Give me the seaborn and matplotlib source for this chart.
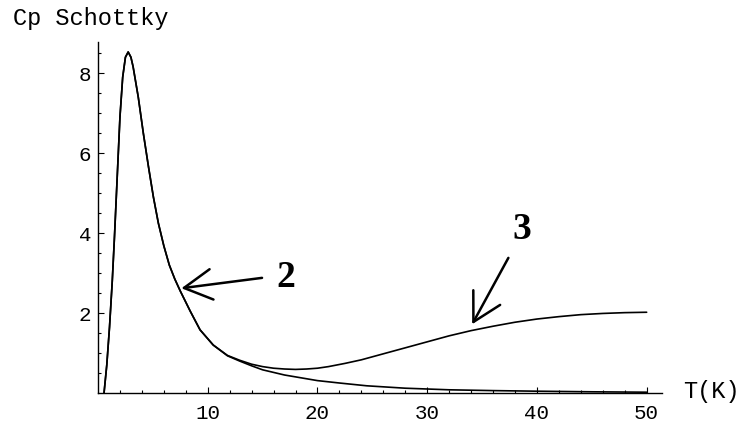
import numpy as np
import pandas as pd
import matplotlib
matplotlib.use("Agg")
import matplotlib.pyplot as plt
import seaborn as sns
from matplotlib.ticker import FixedLocator

# curve 2: single Schottky anomaly
t2 = [0.55, 0.8, 1.05, 1.3, 1.5, 1.75, 2.0, 2.25, 2.5, 2.75, 3.0, 3.2, 3.67, 4.13,
      4.6, 5.05, 5.5, 6.0, 6.5, 7.0, 7.5, 8.4, 9.3, 10.5, 11.8, 12.9, 14.0, 15.0,
      17.0, 20.0, 22.0, 24.5, 28.0, 32.0, 36.0, 40.0, 45.0, 50.0]
cp2 = [0.0, 0.7, 1.65, 2.8, 3.9, 5.4, 6.9, 7.9, 8.4, 8.53, 8.4, 8.16, 7.4, 6.5,
       5.66, 4.9, 4.25, 3.68, 3.2, 2.85, 2.55, 2.05, 1.58, 1.2, 0.93, 0.8, 0.68,
       0.58, 0.45, 0.31, 0.25, 0.18, 0.12, 0.08, 0.06, 0.045, 0.03, 0.02]

# curve 3: same low-T part, second contribution at higher T
t3 = [0.55, 0.8, 1.05, 1.3, 1.5, 1.75, 2.0, 2.25, 2.5, 2.75, 3.0, 3.2, 3.67, 4.13,
      4.6, 5.05, 5.5, 6.0, 6.5, 7.0, 7.5, 8.4, 9.3, 10.5, 11.8, 12.9, 14.0, 15.0,
      16.0, 17.0, 18.0, 19.0, 20.0, 21.0, 22.5, 24.0, 26.0, 28.0, 30.0, 32.0, 34.0,
      36.0, 38.0, 40.0, 42.0, 44.0, 46.0, 48.0, 50.0]
cp3 = [0.0, 0.7, 1.65, 2.8, 3.9, 5.4, 6.9, 7.9, 8.4, 8.53, 8.4, 8.16, 7.4, 6.5,
       5.66, 4.9, 4.25, 3.68, 3.2, 2.85, 2.55, 2.05, 1.58, 1.2, 0.94, 0.82, 0.72,
       0.66, 0.62, 0.6, 0.59, 0.6, 0.62, 0.66, 0.74, 0.83, 0.98, 1.13, 1.28, 1.43,
       1.56, 1.67, 1.77, 1.85, 1.91, 1.96, 1.99, 2.01, 2.02]

x_major = [10, 20, 30, 40, 50]
y_major = [2, 4, 6, 8]

df2 = pd.DataFrame({"T": t2, "Cp": cp2})
df3 = pd.DataFrame({"T": t3, "Cp": cp3})

sns.set_style("white")
plt.rcParams["font.family"] = ["Liberation Mono", "DejaVu Sans Mono"]
plt.rcParams["text.color"] = "black"
plt.rcParams["xtick.color"] = "black"
plt.rcParams["ytick.color"] = "black"

fig = plt.figure(figsize=(7.41, 4.23), dpi=100)
ax = fig.add_axes([98 / 741, 30 / 423, 564 / 741, 351 / 423])

sns.lineplot(data=df2, x="T", y="Cp", ax=ax, color="black", lw=1.2, sort=False, estimator=None)
sns.lineplot(data=df3, x="T", y="Cp", ax=ax, color="black", lw=1.2, sort=False, estimator=None)

ax.set_xlim(0, 51.4)
ax.set_ylim(0, 8.78)
for s in ["top", "right"]:
    ax.spines[s].set_visible(False)
for s in ["left", "bottom"]:
    ax.spines[s].set_linewidth(1.0)
    ax.spines[s].set_color("black")

ax.xaxis.set_major_locator(FixedLocator(x_major))
ax.xaxis.set_minor_locator(FixedLocator([v for v in range(2, 51, 2) if v % 10]))
ax.yaxis.set_major_locator(FixedLocator(y_major))
ax.yaxis.set_minor_locator(FixedLocator([v / 2 for v in range(1, 18) if v % 4]))
ax.tick_params(which="both", direction="in", bottom=True, left=True,
               color="black", width=0.8)
ax.tick_params(which="major", length=4.5)
ax.tick_params(which="minor", length=2.5)
ax.tick_params(axis="x", which="major", pad=8, labelsize=15)
ax.tick_params(axis="y", which="major", pad=5, labelsize=15)
ax.set_xlabel("")
ax.set_ylabel("")

fig.text(13 / 741, 1 - 18 / 423, "Cp Schottky", fontsize=17, va="center", ha="left")
fig.text(683 / 741, 1 - 391 / 423, "T(K)", fontsize=17, va="center", ha="left")

arrow = dict(arrowstyle="->,head_length=2.0,head_width=1.1", color="black", lw=1.8,
             mutation_scale=10, shrinkA=0, shrinkB=0)
ax.annotate("", xy=(7.6, 2.62), xytext=(14.95, 2.88), arrowprops=arrow)
ax.annotate("", xy=(34.1, 1.72), xytext=(37.4, 3.38), arrowprops=arrow)
ax.text(17.1, 2.9, "2", fontsize=27, fontweight="bold", family="Liberation Serif",
        ha="center", va="center")
ax.text(38.6, 4.1, "3", fontsize=27, fontweight="bold", family="Liberation Serif",
        ha="center", va="center")

fig.savefig("out.png", dpi=100, facecolor="white")
